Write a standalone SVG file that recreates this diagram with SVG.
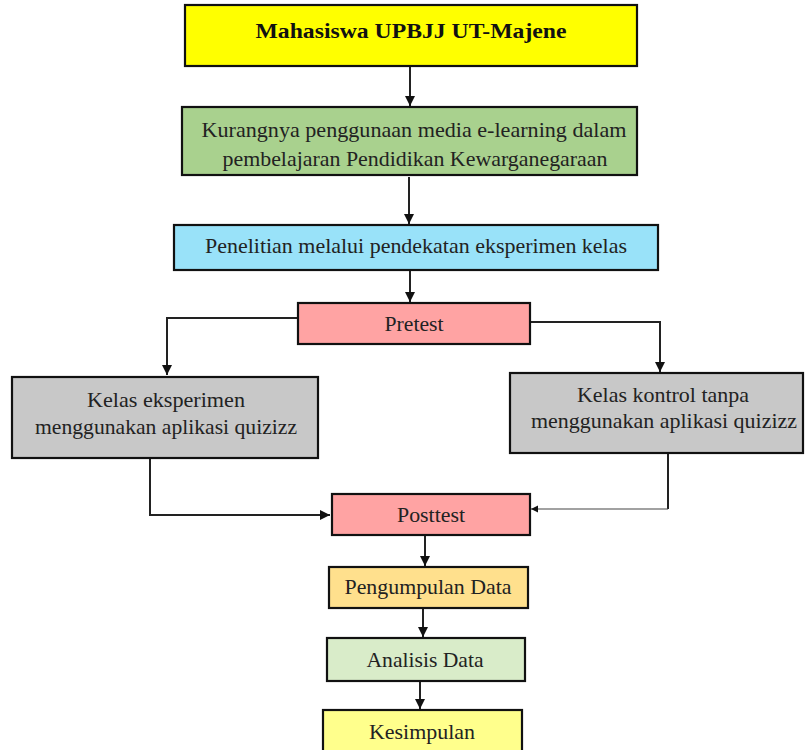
<svg xmlns="http://www.w3.org/2000/svg" width="805" height="750" viewBox="0 0 805 750">
<style>
.box{stroke:#111;stroke-width:2.2}
.t{font-family:"Liberation Serif","Times New Roman",serif;font-size:21px;fill:#222;text-anchor:middle}
.b{font-weight:bold;fill:#111;font-size:22px}
.c{fill:none;stroke:#222;stroke-width:2}
.thin{fill:none;stroke:#444;stroke-width:1.2}
</style>
<defs>
<marker id="ah" markerWidth="12" markerHeight="12" refX="10" refY="5.5" orient="auto" markerUnits="userSpaceOnUse">
<path d="M0,0.5 L10,5.5 L0,10.5 Z" fill="#111"/>
</marker>
<marker id="ahs" markerWidth="8" markerHeight="8" refX="7" refY="4" orient="auto" markerUnits="userSpaceOnUse">
<path d="M0,0.5 L7,4 L0,7.5 Z" fill="#111"/>
</marker>
</defs>
<rect width="805" height="750" fill="#fff"/>
<g id="connectors">
<path class="c" d="M410,67 V106" marker-end="url(#ah)"/>
<path class="c" d="M409,177 V224" marker-end="url(#ah)"/>
<path class="c" d="M410,271 V302" marker-end="url(#ah)"/>
<path class="c" d="M298,318 H167 V375" marker-end="url(#ah)"/>
<path class="c" d="M530,322 H660 V372" marker-end="url(#ah)"/>
<path class="c" d="M150,458 V515 H330" marker-end="url(#ah)"/>
<path class="c" d="M668,453 V509"/>
<path class="thin" d="M668,509 H531" marker-end="url(#ahs)"/>
<path class="c" d="M425,536 V566" marker-end="url(#ah)"/>
<path class="c" d="M423,609 V637" marker-end="url(#ah)"/>
<path class="c" d="M420,682 V709" marker-end="url(#ah)"/>
</g>
<g id="n1"><rect class="box" x="185" y="5" width="452" height="61" fill="#ffff00"/>
<text class="t b" x="411" y="38" textLength="311" lengthAdjust="spacingAndGlyphs">Mahasiswa UPBJJ UT-Majene</text></g>
<g id="n2"><rect class="box" x="182" y="107" width="455" height="68" fill="#a9d18e"/>
<text class="t" x="414" y="137" textLength="425" lengthAdjust="spacingAndGlyphs">Kurangnya penggunaan media e-learning dalam</text>
<text class="t" x="415" y="166" textLength="385" lengthAdjust="spacingAndGlyphs">pembelajaran Pendidikan Kewarganegaraan</text></g>
<g id="n3"><rect class="box" x="174" y="225" width="484" height="45" fill="#99e2f9"/>
<text class="t" x="416" y="253" textLength="422" lengthAdjust="spacingAndGlyphs">Penelitian melalui pendekatan eksperimen kelas</text></g>
<g id="n4"><rect class="box" x="298" y="303" width="232" height="41" fill="#ffa3a3"/>
<text class="t" x="414" y="331" textLength="59" lengthAdjust="spacingAndGlyphs">Pretest</text></g>
<g id="n5"><rect class="box" x="12" y="377" width="306" height="81" fill="#c8c8c8"/>
<text class="t" x="166" y="407" textLength="158" lengthAdjust="spacingAndGlyphs">Kelas eksperimen</text>
<text class="t" x="166" y="434" textLength="262" lengthAdjust="spacingAndGlyphs">menggunakan aplikasi quizizz</text></g>
<g id="n6"><rect class="box" x="510" y="373" width="293" height="80" fill="#c8c8c8"/>
<text class="t" x="663" y="402" textLength="172" lengthAdjust="spacingAndGlyphs">Kelas kontrol tanpa</text>
<text class="t" x="664" y="428" textLength="266" lengthAdjust="spacingAndGlyphs">menggunakan aplikasi quizizz</text></g>
<g id="n7"><rect class="box" x="332" y="494" width="198" height="41" fill="#ffa3a3"/>
<text class="t" x="431" y="522" textLength="68" lengthAdjust="spacingAndGlyphs">Posttest</text></g>
<g id="n8"><rect class="box" x="329" y="567" width="199" height="41" fill="#ffe08d"/>
<text class="t" x="428" y="594" textLength="167" lengthAdjust="spacingAndGlyphs">Pengumpulan Data</text></g>
<g id="n9"><rect class="box" x="327" y="638" width="198" height="43" fill="#d9ecc9"/>
<text class="t" x="425" y="667" textLength="117" lengthAdjust="spacingAndGlyphs">Analisis Data</text></g>
<g id="n10"><rect class="box" x="323" y="710" width="199" height="45" fill="#ffff8c"/>
<text class="t" x="422" y="739" textLength="106" lengthAdjust="spacingAndGlyphs">Kesimpulan</text></g>
</svg>
